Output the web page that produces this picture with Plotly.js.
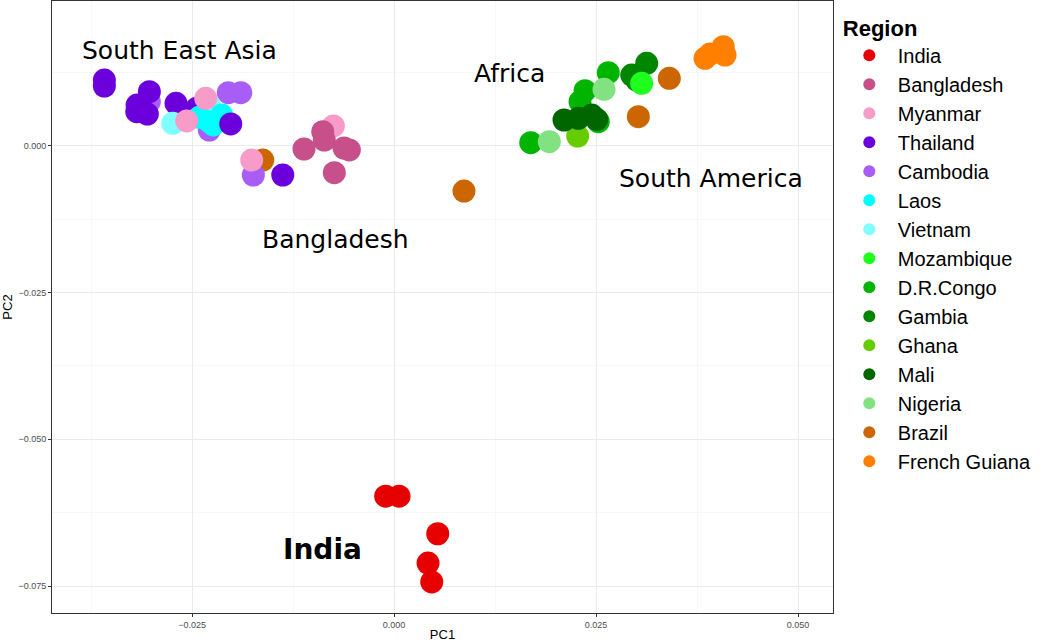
<!DOCTYPE html>
<html>
<head>
<meta charset="utf-8">
<script src="https://cdn.plot.ly/plotly-3.0.1.min.js"></script>
<style>html,body{margin:0;padding:0;background:#fff;}#chart{width:1050px;height:642px;}</style>
</head>
<body>
<div id="chart"></div>
<script>
const regions = ["India","Bangladesh","Myanmar","Thailand","Cambodia","Laos","Vietnam","Mozambique","D.R.Congo","Gambia","Ghana","Mali","Nigeria","Brazil","French Guiana"];
const colors = ["#E60000","#C7508A","#F79BC9","#6C00DD","#A95DF7","#00FFFF","#80FFFF","#1EFF1E","#00B400","#008600","#66CC00","#006600","#82E282","#CC6600","#FF8000"];

const indiaPC1 = [-0.00103, 0.00062, 0.00541, 0.00421, 0.00467];
const indiaPC2 = [-0.0597, -0.0597, -0.0661, -0.0711, -0.0743];
const bangladeshPC1 = [-0.01114, -0.00882, -0.00863, -0.00553, -0.00739, -0.00619];
const bangladeshPC2 = [-0.00056, 0.00238, 0.00097, -0.00073, -0.0046, -0.0004];
const myanmarPC1 = [-0.00751, -0.0233, -0.02566, -0.01761];
const myanmarPC2 = [0.00336, 0.00807, 0.00421, -0.00244];
const thailandPC1 = [-0.03585, -0.03585, -0.03028, -0.03184, -0.03053, -0.0318, -0.02698, -0.02442, -0.01377];
const thailandPC2 = [0.01119, 0.01017, 0.0092, 0.00579, 0.0054, 0.00693, 0.00722, 0.00637, -0.00499];
const thailandLatePC1 = [-0.02021];
const thailandLatePC2 = [0.0037];
const cambodiaPC1 = [-0.02051, -0.01897, -0.03028, -0.02286, -0.01741];
const cambodiaPC2 = [0.00903, 0.00903, 0.00749, 0.00267, -0.00499];
const laosPC1 = [-0.0241, -0.02236, -0.02133, -0.02286];
const laosPC2 = [0.00484, 0.00353, 0.00523, 0.00409];
const vietnamPC1 = [-0.02739, -0.02286];
const vietnamPC2 = [0.00382, 0.00693];
const mozambiquePC1 = [0.03065];
const mozambiquePC2 = [0.01063];
const congoPC1 = [0.01692, 0.02652, 0.02364, 0.02302, 0.02528];
const congoPC2 = [0.00051, 0.01243, 0.00937, 0.00749, 0.00409];
const gambiaPC1 = [0.03127, 0.02942, 0.03004];
const gambiaPC2 = [0.01403, 0.01204, 0.01119];
const ghanaPC1 = [0.02273];
const ghanaPC2 = [0.00165];
const maliPC1 = [0.02104, 0.02281, 0.02447, 0.02509];
const maliPC2 = [0.00438, 0.00467, 0.00523, 0.0045];
const nigeriaPC1 = [0.01922, 0.02599];
const nigeriaPC2 = [0.00068, 0.00961];
const brazilPC1 = [-0.01625, 0.00866, 0.03407, 0.03024];
const brazilPC2 = [-0.00244, -0.00772, 0.01148, 0.00494];
const guianaPC1 = [0.03849, 0.04075, 0.04097, 0.03911];
const guianaPC2 = [0.01489, 0.01686, 0.01545, 0.01562];

const seriesX = [indiaPC1, bangladeshPC1, myanmarPC1, thailandPC1, cambodiaPC1, laosPC1, vietnamPC1, mozambiquePC1, congoPC1, gambiaPC1, ghanaPC1, maliPC1, nigeriaPC1, brazilPC1, guianaPC1];
const seriesY = [indiaPC2, bangladeshPC2, myanmarPC2, thailandPC2, cambodiaPC2, laosPC2, vietnamPC2, mozambiquePC2, congoPC2, gambiaPC2, ghanaPC2, maliPC2, nigeriaPC2, brazilPC2, guianaPC2];

// drawing order (bottom to top), legend order kept via legendrank
const drawOrder = ["Brazil","Cambodia","Thailand","Vietnam","Laos","ThailandLate","Myanmar","Bangladesh","India","D.R.Congo","Ghana","Gambia","Mali","Nigeria","Mozambique","French Guiana"];

const labelTexts = ["South East Asia", "Africa", "South America", "Bangladesh", "India"];
const labelX = [-0.0265, 0.01423, 0.03923, -0.0073, -0.0089];
const labelY = [0.0163, 0.01238, -0.00567, -0.0159, -0.0687];

const traces = drawOrder.map(name => {
  if (name === "ThailandLate") {
    const i = regions.indexOf("Thailand");
    return {type: "scatter", mode: "markers", name: "Thailand", legendgroup: "g" + i, showlegend: false, legendrank: i + 1,
      x: thailandLatePC1, y: thailandLatePC2,
      marker: {color: colors[i], size: 23, line: {width: 0}}, hoverinfo: "name"};
  }
  const i = regions.indexOf(name);
  return {type: "scatter", mode: "markers", name: name, legendgroup: "g" + i, legendrank: i + 1,
    x: seriesX[i], y: seriesY[i],
    marker: {color: colors[i], size: 23, line: {width: 0}}, hoverinfo: "name"};
});

const annotations = labelTexts.map((t, i) => ({
  x: labelX[i], y: labelY[i], xref: "x", yref: "y", text: i === 4 ? "<b>" + t + "</b>" : t,
  showarrow: false,
  font: {family: "DejaVu Sans", size: i === 4 ? 28 : 25, color: "#000"}
}));

const axisCommon = {
  showline: true, linecolor: "#333333", linewidth: 1, mirror: true,
  showgrid: true, gridcolor: "#ebebeb", gridwidth: 1,
  zeroline: false, ticks: "outside", ticklen: 3, tickcolor: "#333333",
  tickfont: {family: "Liberation Sans", size: 9, color: "#4d4d4d"},
  tickformat: ".3f"
};

const layout = {
  width: 1050, height: 642,
  margin: {l: 52, r: 217, t: 1, b: 29},
  paper_bgcolor: "#ffffff", plot_bgcolor: "#ffffff",
  showlegend: true,
  xaxis: Object.assign({}, axisCommon, {
    range: [-0.04233, 0.05433], tickvals: [-0.025, 0, 0.025, 0.05],
    minor: {showgrid: true, gridcolor: "#f3f3f3", gridwidth: 0.6, tickvals: [-0.0375, -0.0125, 0.0125, 0.0375], ticks: ""},
    title: {text: "PC1", font: {family: "Liberation Sans", size: 13, color: "#000"}, standoff: 2}
  }),
  yaxis: Object.assign({}, axisCommon, {
    range: [-0.0796, 0.02465], tickvals: [-0.075, -0.05, -0.025, 0],
    minor: {showgrid: true, gridcolor: "#f3f3f3", gridwidth: 0.6, tickvals: [-0.0625, -0.0375, -0.0125, 0.0125], ticks: ""},
    title: {text: "PC2", font: {family: "Liberation Sans", size: 13, color: "#000"}, standoff: 4}
  }),
  legend: {
    x: 1.01, xanchor: "left", y: 0.99, yanchor: "top",
    bgcolor: "rgba(255,255,255,0)", borderwidth: 0,
    font: {family: "Liberation Sans", size: 20, color: "#000"},
    title: {text: "<b>Region</b>", font: {family: "Liberation Sans", size: 22, color: "#000"}},
    tracegroupgap: 0, itemwidth: 47, itemsizing: "constant", traceorder: "grouped"
  },
  annotations: annotations
};

Plotly.newPlot("chart", traces, layout, {displayModeBar: false, staticPlot: true});
</script>
</body>
</html>
